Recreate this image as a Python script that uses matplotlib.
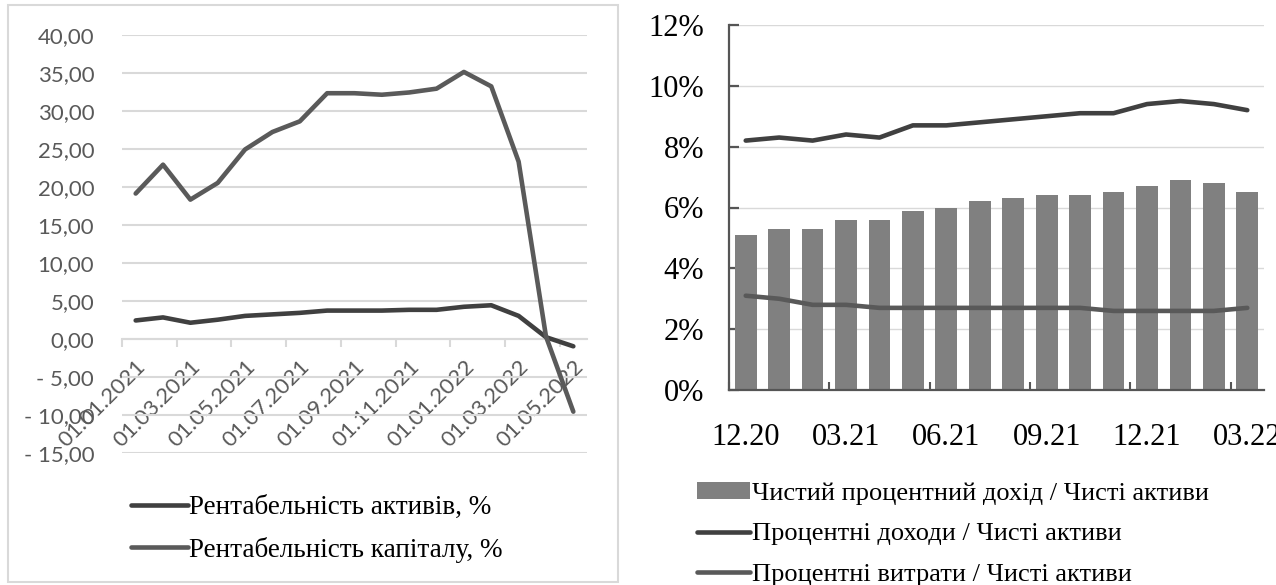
import numpy as np
import matplotlib
matplotlib.use('Agg')
import matplotlib.pyplot as plt
from matplotlib.patches import Rectangle

# left chart: profitability
dates_left = ['01.01.2021', '01.02.2021', '01.03.2021', '01.04.2021', '01.05.2021',
              '01.06.2021', '01.07.2021', '01.08.2021', '01.09.2021', '01.10.2021',
              '01.11.2021', '01.12.2021', '01.01.2022', '01.02.2022', '01.03.2022',
              '01.04.2022', '01.05.2022']
roa = [2.4, 2.8, 2.1, 2.5, 3.0, 3.2, 3.4, 3.7, 3.7, 3.7, 3.8, 3.8, 4.2, 4.4, 3.0, 0.2, -1.0]
roe = [19.1, 22.9, 18.3, 20.5, 24.9, 27.2, 28.6, 32.3, 32.3, 32.1, 32.4, 32.9, 35.1, 33.2, 23.3, 0.3, -9.6]
yticks_left = [-15, -10, -5, 0, 5, 10, 15, 20, 25, 30, 35, 40]
ylabels_left = ['- 15,00', '- 10,00', '- 5,00', '0,00', '5,00', '10,00', '15,00',
                '20,00', '25,00', '30,00', '35,00', '40,00']

# right chart: interest margins (% of net assets)
months_right = ['12.20', '01.21', '02.21', '03.21', '04.21', '05.21', '06.21', '07.21',
                '08.21', '09.21', '10.21', '11.21', '12.21', '01.22', '02.22', '03.22']
nii = [5.1, 5.3, 5.3, 5.6, 5.6, 5.9, 6.0, 6.2, 6.3, 6.4, 6.4, 6.5, 6.7, 6.9, 6.8, 6.5]
int_income = [8.2, 8.3, 8.2, 8.4, 8.3, 8.7, 8.7, 8.8, 8.9, 9.0, 9.1, 9.1, 9.4, 9.5, 9.4, 9.2]
int_expense = [3.1, 3.0, 2.8, 2.8, 2.7, 2.7, 2.7, 2.7, 2.7, 2.7, 2.7, 2.6, 2.6, 2.6, 2.6, 2.7]
yticks_right = [0, 2, 4, 6, 8, 10, 12]

W, H = 1276, 585
fig = plt.figure(figsize=(W / 100, H / 100), dpi=100)
serif = ['Liberation Serif', 'DejaVu Serif']
grid_c = '#d9d9d9'

# border around left chart
fig.add_artist(Rectangle((8 / W, 3 / H), 610 / W, 577 / H, transform=fig.transFigure,
                         fill=False, edgecolor=grid_c, lw=1.5))

# ---- left chart ----
ax1 = fig.add_axes([122 / W, 1 - 452.7 / H, (587 - 122) / W, (452.7 - 34.7) / H])
x1 = np.arange(len(dates_left))
ax1.plot(x1, roa, color='#404040', lw=3.3, solid_capstyle='round', zorder=3,
         label='Рентабельність активів, %')
ax1.plot(x1, roe, color='#5a5a5a', lw=3.3, solid_capstyle='round', zorder=3,
         label='Рентабельність капіталу, %')
ax1.set_xlim(-0.5, len(dates_left) - 0.5)
ax1.set_ylim(-15, 40)
ax1.set_yticks(yticks_left)
ax1.set_yticklabels(ylabels_left)
ax1.grid(axis='y', color=grid_c, lw=1.5)
ax1.set_axisbelow(True)
for s in ['top', 'right', 'left']:
    ax1.spines[s].set_visible(False)
ax1.spines['bottom'].set_position(('data', 0))
ax1.spines['bottom'].set_color(grid_c)
ax1.spines['bottom'].set_linewidth(1.5)
ax1.set_xticks(x1[::2])
ax1.set_xticklabels(dates_left[::2], rotation=45, ha='right', rotation_mode='anchor')
ax1.set_xticks(np.arange(-0.5, len(dates_left), 2), minor=True)
ax1.tick_params(axis='x', which='major', length=0, pad=13, labelsize=16, labelcolor='#595959')
ax1.tick_params(axis='x', which='minor', length=6, width=1.5, color=grid_c, direction='out')
ax1.tick_params(axis='y', length=0, pad=20, labelsize=16, labelcolor='#595959')
for t in ax1.get_xticklabels() + ax1.get_yticklabels():
    t.set_family(['Lato', 'DejaVu Sans'])

fig.legend(handles=ax1.get_lines(), loc='center left', frameon=False,
           bbox_to_anchor=(131 / W, 1 - 529 / H), bbox_transform=fig.transFigure,
           prop={'family': serif, 'size': 19.5}, handlelength=2.1, handletextpad=0.05,
           labelspacing=0.62, borderpad=0, borderaxespad=0)

# ---- right chart ----
ax2 = fig.add_axes([729 / W, 1 - 390 / H, (1264 - 729) / W, (390 - 25) / H])
x2 = np.arange(len(months_right))
bars = ax2.bar(x2, nii, width=0.65, color='#808080', zorder=2,
               label='Чистий процентний дохід / Чисті активи')
ln_inc, = ax2.plot(x2, int_income, color='#404040', lw=3.3, solid_capstyle='round', zorder=3,
                   label='Процентні доходи / Чисті активи')
ln_exp, = ax2.plot(x2, int_expense, color='#595959', lw=3.3, solid_capstyle='round', zorder=3,
                   label='Процентні витрати / Чисті активи')
ax2.set_xlim(-0.5, len(months_right) - 0.5)
ax2.set_ylim(0, 12)
ax2.set_yticks(yticks_right)
ax2.set_yticklabels([f'{v}%' for v in yticks_right])
ax2.grid(axis='y', color=grid_c, lw=1)
ax2.set_axisbelow(True)
for s in ['top', 'right']:
    ax2.spines[s].set_visible(False)
for s in ['left', 'bottom']:
    ax2.spines[s].set_color('#555555')
    ax2.spines[s].set_linewidth(1.6)
ax2.set_xticks(x2[::3])
ax2.set_xticklabels(months_right[::3])
ax2.set_xticks(np.arange(-0.5, len(months_right), 3), minor=True)
ax2.tick_params(axis='x', which='major', length=0, pad=24, labelsize=22)
ax2.tick_params(axis='x', which='minor', length=6, width=1.5, color='#555555', direction='in')
ax2.tick_params(axis='y', length=7, width=1.6, color='#555555', direction='in', pad=18,
                labelsize=22)
for t in ax2.get_xticklabels() + ax2.get_yticklabels():
    t.set_family(serif)

fig.legend([bars, ln_inc, ln_exp], [bars.get_label(), ln_inc.get_label(), ln_exp.get_label()],
           loc='center left', frameon=False,
           bbox_to_anchor=(697 / W, 1 - 534 / H), bbox_transform=fig.transFigure,
           prop={'family': serif, 'size': 19}, handlelength=2.0, handletextpad=0.1,
           handleheight=0.6, labelspacing=0.68, borderpad=0, borderaxespad=0)

fig.savefig('out.png', dpi=100)
